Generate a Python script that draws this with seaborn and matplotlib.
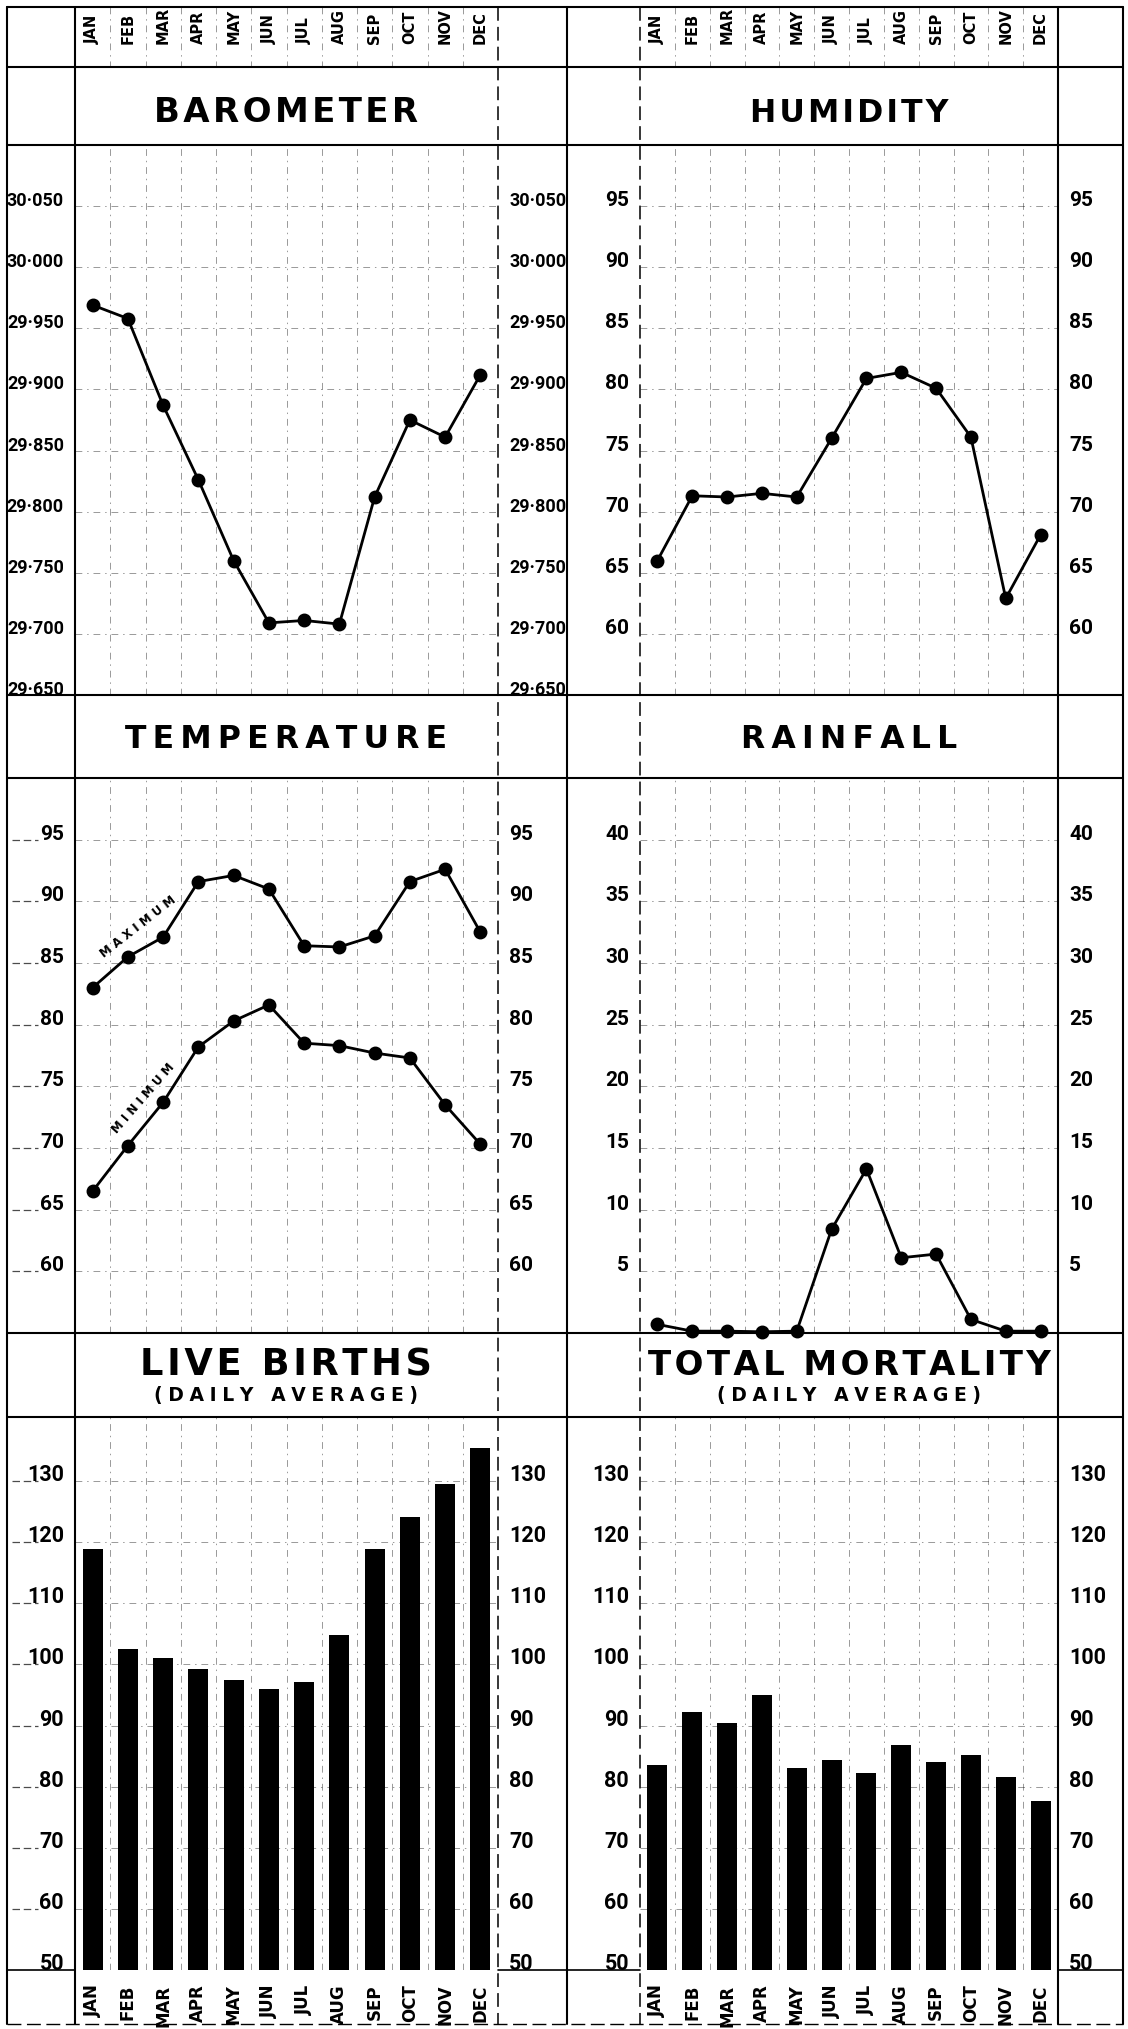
import matplotlib
matplotlib.use("Agg")
import matplotlib.pyplot as plt
import matplotlib.transforms as mtransforms
from matplotlib import font_manager
from matplotlib.lines import Line2D
import seaborn as sns

W, H = 1128, 2029

months = ["JAN", "FEB", "MAR", "APR", "MAY", "JUN", "JUL", "AUG", "SEP", "OCT", "NOV", "DEC"]

# values
barometer = [29.969, 29.958, 29.887, 29.826, 29.760, 29.709, 29.711, 29.708, 29.812, 29.875, 29.861, 29.912]
humidity = [66.0, 71.3, 71.2, 71.5, 71.2, 76.0, 80.9, 81.4, 80.1, 76.1, 62.9, 68.1]
temp_max = [83.0, 85.5, 87.1, 91.6, 92.1, 91.0, 86.4, 86.3, 87.2, 91.6, 92.6, 87.5]
temp_min = [66.5, 70.2, 73.7, 78.2, 80.3, 81.6, 78.5, 78.3, 77.7, 77.3, 73.5, 70.3]
rainfall = [0.7, 0.15, 0.15, 0.1, 0.15, 8.4, 13.3, 6.1, 6.4, 1.1, 0.15, 0.15]
live_births = [118.9, 102.6, 101.1, 99.3, 97.5, 96.0, 97.1, 104.9, 118.9, 124.2, 129.6, 135.5]
mortality = [83.5, 92.3, 90.5, 95.0, 83.0, 84.4, 82.2, 86.9, 84.0, 85.2, 81.6, 77.6]

# axis ticks and labels
baro_ticks = [29.65, 29.70, 29.75, 29.80, 29.85, 29.90, 29.95, 30.00, 30.05]
baro_labels = ["29·650", "29·700", "29·750", "29·800", "29·850", "29·900", "29·950", "30·000", "30·050"]
pct_ticks = [60, 65, 70, 75, 80, 85, 90, 95]
rain_ticks = [5, 10, 15, 20, 25, 30, 35, 40]
count_ticks = [50, 60, 70, 80, 90, 100, 110, 120, 130]

sns.set_style("white")
plt.rcParams["font.family"] = ["DejaVu Sans"]
for key in ("text.color", "xtick.color", "ytick.color", "axes.labelcolor"):
    plt.rcParams[key] = "black"

_names = {f.name for f in font_manager.fontManager.ttflist}
NUM_FONT = "Roboto" if "Roboto" in _names else "Liberation Sans"
NARROW = "Liberation Sans Narrow" in _names
MONTH_FONT = "Liberation Sans Narrow" if NARROW else "DejaVu Sans"

GRID = dict(color="black", lw=0.7, ls=(0, (7, 5, 1.5, 5)), alpha=0.4, zorder=0.5)
LINE_KW = dict(color="black", markers="o", errorbar=None, markersize=8.5, linewidth=2.0)

fig = plt.figure(figsize=(W / 100, H / 100), dpi=100)


def px_axes(l, t, r, b):
    return fig.add_axes([l / W, 1 - b / H, (r - l) / W, (b - t) / H])


LEFT = (75, 498)
RIGHT = (640, 1058)
ROWS = [(145, 695), (778, 1333), (1417, 1970)]

ax_baro = px_axes(LEFT[0], ROWS[0][0], LEFT[1], ROWS[0][1])
ax_hum = px_axes(RIGHT[0], ROWS[0][0], RIGHT[1], ROWS[0][1])
ax_temp = px_axes(LEFT[0], ROWS[1][0], LEFT[1], ROWS[1][1])
ax_rain = px_axes(RIGHT[0], ROWS[1][0], RIGHT[1], ROWS[1][1])
ax_birth = px_axes(LEFT[0], ROWS[2][0], LEFT[1], ROWS[2][1])
ax_mort = px_axes(RIGHT[0], ROWS[2][0], RIGHT[1], ROWS[2][1])


def points(ax, values):
    n = len(ax.lines)
    sns.pointplot(x=months, y=values, ax=ax, **LINE_KW)
    for ln in ax.lines[n:]:
        ln.set_clip_on(False)
        ln.set_zorder(3)


points(ax_baro, barometer)
points(ax_hum, humidity)
points(ax_temp, temp_max)
points(ax_temp, temp_min)
points(ax_rain, rainfall)

for ax, vals in [(ax_birth, live_births), (ax_mort, mortality)]:
    sns.barplot(x=months, y=vals, color="black", saturation=1, width=0.57,
                errorbar=None, linewidth=0, ax=ax)


def decorate(ax, ylim, ticks, labels, size, font=NUM_FONT):
    ax.set_xlim(-0.5, len(months) - 0.5)
    ax.set_ylim(*ylim)
    ax.set_yticks(ticks, labels)
    ax.tick_params(axis="y", left=False, right=False, labelleft=True,
                   labelright=True, pad=4.5, labelsize=size)
    for t in ax.yaxis.get_major_ticks():
        for lab in (t.label1, t.label2):
            lab.set_fontfamily([font, "DejaVu Sans"])
            lab.set_fontweight("bold")
            lab.set_verticalalignment("baseline")
    for v in ticks:
        ax.axhline(v, **GRID)
    for i in range(len(months) - 1):
        ax.axvline(i + 0.5, **GRID)
    for s in ax.spines.values():
        s.set_visible(False)
    ax.set_xlabel("")
    ax.set_ylabel("")
    ax.set_facecolor("none")


decorate(ax_baro, (29.65, 30.10), baro_ticks, baro_labels, 15 if NARROW else 13,
         font=MONTH_FONT if NARROW else NUM_FONT)
decorate(ax_hum, (55, 100), pct_ticks, [str(v) for v in pct_ticks], 15)
decorate(ax_temp, (55, 100), pct_ticks, [str(v) for v in pct_ticks], 15)
decorate(ax_rain, (0, 45), rain_ticks, [str(v) for v in rain_ticks], 15)
decorate(ax_birth, (50, 140.5), count_ticks, [str(v) for v in count_ticks], 15.5)
decorate(ax_mort, (50, 140.5), count_ticks, [str(v) for v in count_ticks], 15.5)

# month names: header row on top, label row at the bottom
top_size, bottom_size = (12.5, 14.5) if NARROW else (10.5, 12)
for ax in (ax_baro, ax_hum):
    ax.set_xticks(range(len(months)), months)
    ax.tick_params(axis="x", bottom=False, top=False, labelbottom=False, labeltop=True,
                   labelrotation=90, pad=69, labelsize=top_size)
    for t in ax.xaxis.get_major_ticks():
        t.label2.set_fontweight("bold")
        t.label2.set_fontfamily([MONTH_FONT, "DejaVu Sans"])
for ax in (ax_temp, ax_rain):
    ax.tick_params(axis="x", bottom=False, labelbottom=False)
for ax in (ax_birth, ax_mort):
    ax.set_xticks(range(len(months)), months)
    ax.tick_params(axis="x", bottom=False, labelbottom=True, labelrotation=90,
                   pad=7, labelsize=bottom_size)
    for t in ax.xaxis.get_major_ticks():
        t.label1.set_fontweight("bold")
        t.label1.set_fontfamily([MONTH_FONT, "DejaVu Sans"])

ax_temp.text(1.3, 87.9, "M A X I M U M", rotation=38, rotation_mode="anchor",
             ha="center", va="center", fontsize=8.5, fontweight="bold")
ax_temp.text(1.45, 74.0, "M I N I M U M", rotation=49, rotation_mode="anchor",
             ha="center", va="center", fontsize=8.5, fontweight="bold")

# short rules running into the left label column, as on the printed sheet
for ax, ticks in [(ax_temp, pct_ticks), (ax_birth, count_ticks[1:])]:
    tr = mtransforms.blended_transform_factory(fig.transFigure, ax.transData)
    for v in ticks:
        fig.add_artist(Line2D([12 / W, 38 / W], [v, v], transform=tr, color="black",
                              lw=0.9, ls=(0, (6, 3)), alpha=0.7))


# titles
def spaced(s, sep):
    return sep.join(s)


HAIR, THIN = "\u200a", "\u2009"
lc = (LEFT[0] + LEFT[1]) / 2 / W
rc = (RIGHT[0] + RIGHT[1]) / 2 / W
TITLE = dict(ha="center", va="baseline", fontweight="bold", family="DejaVu Sans", color="black")
fig.text(lc, 1 - 122 / H, spaced("BAROMETER", HAIR), fontsize=24.5, **TITLE)
fig.text(rc, 1 - 122 / H, spaced("HUMIDITY", HAIR), fontsize=22.7, **TITLE)
fig.text(lc, 1 - 748 / H, spaced("TEMPERATURE", THIN), fontsize=22.7, **TITLE)
fig.text(rc, 1 - 748 / H, spaced("RAINFALL", THIN), fontsize=22.7, **TITLE)
fig.text(lc, 1 - 1375 / H, spaced("LIVE BIRTHS", HAIR), fontsize=26.5, **TITLE)
fig.text(rc, 1 - 1375 / H, spaced("TOTAL MORTALITY", HAIR), fontsize=24.5, **TITLE)
fig.text(lc, 1 - 1401 / H, spaced("(DAILY AVERAGE)", THIN + HAIR), fontsize=13.5, **TITLE)
fig.text(rc, 1 - 1401 / H, spaced("(DAILY AVERAGE)", THIN + HAIR), fontsize=13.5, **TITLE)


# ruled frame
def hline(y, x0, x1, lw=1.5, ls="-"):
    fig.add_artist(Line2D([x0 / W, x1 / W], [1 - y / H, 1 - y / H], color="black", lw=lw, ls=ls))


def vline(x, y0, y1, lw=1.5, ls="-"):
    fig.add_artist(Line2D([x / W, x / W], [1 - y0 / H, 1 - y1 / H], color="black", lw=lw, ls=ls))


TOP, BOTTOM, X0, X1 = 7, 2024, 7, 1123
for y in (TOP, 67, ROWS[0][0], ROWS[0][1], ROWS[1][0], ROWS[1][1], ROWS[2][0]):
    hline(y, X0, X1)
for a, b in [(X0, LEFT[0]), (LEFT[1], RIGHT[0]), (RIGHT[1], X1)]:
    hline(ROWS[2][1], a, b, lw=1.2)
hline(BOTTOM, X0, X1, lw=1.0, ls=(0, (10, 4)))

DASH = (0, (9, 4))
vline(X0, TOP, BOTTOM)
vline(LEFT[0], TOP, BOTTOM)
vline(LEFT[1], TOP, BOTTOM, lw=1.1, ls=DASH)
vline(567, TOP, BOTTOM)
vline(RIGHT[0], TOP, BOTTOM, lw=1.1, ls=DASH)
vline(RIGHT[1], TOP, BOTTOM)
vline(X1, TOP, BOTTOM)

# month separators in the header row
for ax in (ax_baro, ax_hum):
    tr = mtransforms.blended_transform_factory(ax.transData, fig.transFigure)
    for i in range(len(months) - 1):
        fig.add_artist(Line2D([i + 0.5, i + 0.5], [1 - TOP / H, 1 - 67 / H], transform=tr,
                              color="black", lw=0.7, ls=(0, (7, 5, 1.5, 5)), alpha=0.4))

fig.savefig("out.png", dpi=100, facecolor="white")
